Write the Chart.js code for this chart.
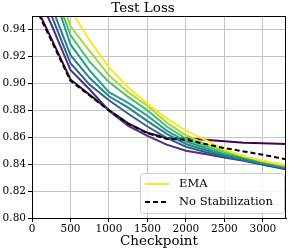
<!DOCTYPE html>
<html>
<head>
<meta charset="utf-8">
<script src="https://cdn.jsdelivr.net/npm/chart.js@4.4.0/dist/chart.umd.min.js"></script>
<style>
html, body { margin: 0; padding: 0; background: #fff; }
canvas { display: block; }
</style>
</head>
<body>
<canvas id="chart" width="289" height="252" style="width:289px;height:252px"></canvas>
<script>
// checkpoints on the x axis
const checkpoints = [0, 250, 500, 750, 1000, 1250, 1500, 1750, 2000, 2250, 2500, 2750, 3000, 3300];

// test loss without stabilization
const noStab = [0.962, 0.932, 0.902, 0.891, 0.880, 0.870, 0.863, 0.8588, 0.8582, 0.855, 0.852, 0.8495, 0.847, 0.8437];

// EMA runs, darkest (smallest decay) to yellow
const ema1 = [0.9635, 0.9335, 0.903, 0.8915, 0.8803, 0.8703, 0.8633, 0.8595, 0.8592, 0.8582, 0.857, 0.856, 0.8555, 0.855];
const ema2 = [0.975, 0.944, 0.910, 0.8955, 0.8798, 0.8685, 0.861, 0.8545, 0.850, 0.8475, 0.845, 0.8425, 0.8395, 0.8363];
const ema3 = [0.980, 0.951, 0.915, 0.899, 0.8875, 0.8775, 0.868, 0.8595, 0.853, 0.849, 0.8455, 0.843, 0.840, 0.8367];
const ema4 = [0.990, 0.958, 0.921, 0.904, 0.8905, 0.882, 0.872, 0.8625, 0.855, 0.8505, 0.8465, 0.8435, 0.8405, 0.8372];
const ema5 = [1.000, 0.972, 0.929, 0.9095, 0.8935, 0.8855, 0.876, 0.865, 0.857, 0.852, 0.8475, 0.8445, 0.841, 0.8378];
const ema6 = [1.000, 0.975, 0.936, 0.916, 0.901, 0.890, 0.880, 0.868, 0.859, 0.8535, 0.849, 0.8455, 0.842, 0.8385];
const ema7 = [1.000, 0.985, 0.9425, 0.924, 0.906, 0.8935, 0.8835, 0.871, 0.8615, 0.855, 0.850, 0.846, 0.8422, 0.8389];
const ema8 = [1.000, 0.995, 0.955, 0.932, 0.912, 0.897, 0.885, 0.874, 0.865, 0.858, 0.851, 0.846, 0.8425, 0.8393];

const xTicks = [0, 500, 1000, 1500, 2000, 2500, 3000];
const yTicks = [0.80, 0.82, 0.84, 0.86, 0.88, 0.90, 0.92, 0.94];

const viridis = ["#440154", "#46327e", "#365c8d", "#277f8e", "#1fa187", "#4ac16d", "#a0da39", "#fde725"];
const emaRuns = [ema1, ema2, ema3, ema4, ema5, ema6, ema7, ema8];

function pts(vals) {
    return vals.map((v, i) => ({ x: checkpoints[i], y: v }));
}

const datasets = [{
    label: "No Stabilization",
    data: pts(noStab),
    borderColor: "#000",
    borderWidth: 2,
    borderDash: [5, 3]
}];
// yellow last in matplotlib, so on top -> first here
for (let i = emaRuns.length - 1; i >= 0; i--) {
    datasets.push({
        label: i == emaRuns.length - 1 ? "EMA" : "",
        data: pts(emaRuns[i]),
        borderColor: viridis[i],
        borderWidth: 2
    });
}

const serif = "'DejaVu Serif', serif";
Chart.defaults.font.family = serif;
Chart.defaults.color = "#000";

// box around the axes plus the legend in the lower right
const boxLegend = {
    id: "boxLegend",
    afterDraw(chart) {
        const ctx = chart.ctx;
        const a = chart.chartArea;
        ctx.save();
        ctx.strokeStyle = "#000";
        ctx.lineWidth = 1;
        ctx.strokeRect(Math.round(a.left) + 0.5, Math.round(a.top) + 0.5,
            Math.round(a.right) - Math.round(a.left) - 1, Math.round(a.bottom) - Math.round(a.top));

        const bw = 144, bh = 40;
        const bx = a.right - 2 - bw, by = a.bottom - 5 - bh;
        ctx.fillStyle = "rgba(255,255,255,0.85)";
        ctx.strokeStyle = "#cccccc";
        ctx.beginPath();
        ctx.roundRect(bx + 0.5, by + 0.5, bw, bh, 3);
        ctx.fill();
        ctx.stroke();

        const items = [datasets[1], datasets[0]];
        ctx.font = "11.5px " + serif;
        ctx.textBaseline = "middle";
        ctx.fillStyle = "#000";
        items.forEach((d, k) => {
            const y = by + 11 + k * 18;
            ctx.strokeStyle = d.borderColor;
            ctx.lineWidth = 2;
            ctx.setLineDash(d.borderDash || []);
            ctx.beginPath();
            ctx.moveTo(bx + 5, y);
            ctx.lineTo(bx + 29, y);
            ctx.stroke();
            ctx.setLineDash([]);
            ctx.fillText(d.label, bx + 39, y);
        });
        ctx.restore();
    }
};

new Chart(document.getElementById("chart"), {
    type: "line",
    data: { datasets },
    options: {
        responsive: false,
        animation: false,
        devicePixelRatio: 1,
        layout: { padding: { left: 0, right: 3, top: 0, bottom: 0 } },
        elements: { point: { radius: 0 }, line: { tension: 0 } },
        plugins: {
            legend: { display: false },
            tooltip: { enabled: false },
            title: {
                display: true,
                text: "Test Loss",
                font: { size: 13.5, weight: "normal" },
                padding: { top: 0, bottom: 0 }
            }
        },
        scales: {
            x: {
                type: "linear",
                min: 0,
                max: 3300,
                afterFit: s => { s.height = 34; },
                afterBuildTicks: s => { s.ticks = xTicks.map(v => ({ value: v })); },
                ticks: { font: { size: 10.5 }, padding: 1, maxRotation: 0, callback: v => String(v) },
                grid: { color: "#c4c4c4", tickColor: "#000", tickLength: 4 },
                border: { color: "#000" },
                title: { display: true, text: "Checkpoint", font: { size: 13.5 }, padding: { top: 0, bottom: 2 } }
            },
            y: {
                min: 0.80,
                max: 0.95,
                afterFit: s => { s.width = 32; },
                afterBuildTicks: s => { s.ticks = yTicks.map(v => ({ value: v })); },
                ticks: { font: { size: 10.5 }, padding: 2, callback: v => v.toFixed(2) },
                grid: { color: "#c4c4c4", tickColor: "#000", tickLength: 4 },
                border: { color: "#000" }
            }
        }
    },
    plugins: [boxLegend]
});
</script>
</body>
</html>
